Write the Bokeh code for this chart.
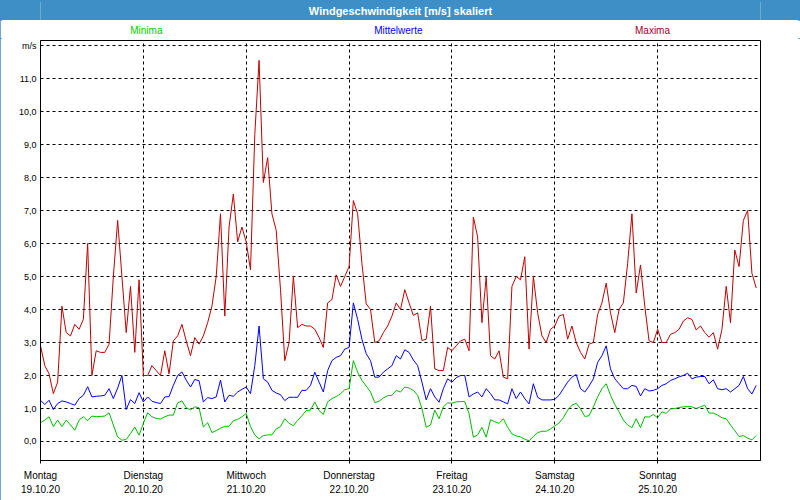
from bokeh.plotting import figure
from bokeh.models import Range1d, FixedTicker, LinearAxis
from bokeh.layouts import column
from bokeh.embed import file_html
from bokeh.resources import INLINE
from bokeh.core.properties import value

# ---------------- data ----------------
title_text = "Windgeschwindigkeit [m/s] skaliert"
series_names = ["Minima", "Mittelwerte", "Maxima"]
day_names = ["Montag", "Dienstag", "Mittwoch", "Donnerstag", "Freitag", "Samstag", "Sonntag"]
day_dates = ["19.10.20", "20.10.20", "21.10.20", "22.10.20", "23.10.20", "24.10.20", "25.10.20"]
day_ticks = [0, 24, 48, 72, 96, 120, 144]          # hours since Mo 19.10.20 00:00
y_ticks = [0, 1, 2, 3, 4, 5, 6, 7, 8, 9, 10, 11, 12]
y_tick_labels = ["0,0", "1,0", "2,0", "3,0", "4,0", "5,0", "6,0", "7,0",
                 "8,0", "9,0", "10,0", "11,0", "m/s"]

hours = list(range(168))   # hourly samples

maxima = [
    2.9, 2.3, 2.05, 1.45, 1.8, 4.1, 3.3, 3.2, 3.55, 3.4, 3.7, 6.0, 2.0, 2.75, 2.7, 2.7, 2.95, 5.0, 6.7, 5.0, 3.3, 4.7, 2.7, 4.9,
    2.0, 2.0, 2.3, 2.15, 2.0, 2.75, 2.05, 3.05, 3.2, 3.55, 3.05, 2.6, 3.15, 2.95, 3.2, 3.6, 4.1, 5.0, 6.9, 3.8, 6.5, 7.5, 6.05, 6.5,
    6.05, 5.2, 9.3, 11.55, 7.85, 8.6, 6.9, 6.4, 4.6, 2.45, 3.0, 5.0, 3.45, 3.55, 3.5, 3.5, 3.4, 3.15, 2.85, 4.2, 4.3, 5.05, 4.7, 5.0,
    5.3, 7.3, 6.9, 5.4, 4.17, 4.0, 3.0, 3.05, 3.3, 3.5, 3.8, 4.2, 4.0, 4.6, 4.2, 3.82, 3.9, 3.06, 3.1, 4.1, 2.2, 2.15, 2.15, 2.85,
    2.75, 2.9, 3.05, 3.1, 2.75, 6.8, 6.2, 3.6, 4.98, 2.6, 2.5, 2.75, 1.95, 1.9, 4.7, 5.0, 4.9, 5.6, 2.8, 5.0, 3.9, 3.2, 3.0, 3.4,
    3.5, 3.8, 3.85, 3.1, 3.5, 3.0, 2.7, 2.5, 2.95, 3.0, 3.85, 4.2, 4.8, 3.9, 3.3, 4.0, 4.2, 5.4, 6.9, 4.5, 5.35, 4.1, 3.05, 3.0,
    3.4, 3.0, 3.0, 3.25, 3.3, 3.4, 3.65, 3.75, 3.7, 3.38, 3.5, 3.3, 3.16, 3.3, 2.8, 3.4, 4.7, 3.6, 5.8, 5.3, 6.7, 7.0, 5.1, 4.65,
]
mittelwerte = [
    1.25, 1.12, 1.25, 0.97, 1.15, 1.23, 1.2, 1.15, 1.1, 1.3, 1.4, 1.66, 1.35, 1.37, 1.38, 1.4, 1.6, 1.3, 1.62, 2.0, 0.97, 1.27, 1.15, 1.48,
    1.2, 1.35, 1.22, 1.18, 1.15, 1.35, 1.36, 1.7, 2.0, 2.11, 1.86, 1.65, 1.88, 1.84, 1.2, 1.33, 1.3, 1.35, 1.86, 1.2, 1.4, 1.37, 1.5, 1.58,
    1.65, 1.45, 2.3, 3.5, 1.9, 1.8, 1.55, 1.47, 1.42, 1.24, 1.34, 1.34, 1.34, 1.55, 1.55, 1.7, 2.1, 1.8, 1.5, 2.15, 2.45, 2.55, 2.6, 2.8,
    2.85, 4.2, 3.7, 3.1, 2.66, 2.45, 1.95, 1.95, 2.1, 2.2, 2.3, 2.6, 2.5, 2.78, 2.7, 2.47, 2.3, 1.8, 1.26, 1.6, 1.35, 1.19, 1.6, 1.9,
    1.8, 1.93, 2.0, 2.0, 1.35, 1.44, 1.5, 1.35, 1.6, 1.45, 1.26, 1.26, 1.2, 1.14, 1.6, 1.3, 1.5, 1.3, 1.14, 1.75, 1.34, 1.26, 1.26, 1.26,
    1.28, 1.4, 1.6, 1.8, 1.95, 2.03, 1.6, 1.5, 1.68, 1.9, 2.4, 2.6, 2.9, 2.2, 1.9, 1.75, 1.6, 1.6, 1.7, 1.67, 1.38, 1.6, 1.53, 1.55,
    1.6, 1.7, 1.75, 1.85, 1.9, 1.96, 2.0, 2.07, 1.9, 1.95, 1.97, 1.97, 1.75, 1.87, 1.6, 1.57, 1.6, 1.5, 1.6, 1.7, 1.97, 1.6, 1.44, 1.7,
]
minima = [
    0.57, 0.65, 0.75, 0.45, 0.65, 0.45, 0.65, 0.5, 0.34, 0.65, 0.75, 0.63, 0.77, 0.75, 0.76, 0.77, 0.87, 0.5, 0.14, 0.04, 0.06, 0.24, 0.44, 0.19,
    0.55, 0.87, 0.75, 0.7, 0.68, 0.75, 0.8, 0.8, 1.17, 1.23, 1.02, 0.96, 1.05, 1.02, 0.44, 0.57, 0.27, 0.33, 0.4, 0.46, 0.46, 0.63, 0.67, 0.75,
    0.85, 0.45, 0.2, 0.08, 0.18, 0.2, 0.2, 0.38, 0.45, 0.69, 0.55, 0.48, 0.64, 0.78, 0.94, 0.95, 1.2, 0.94, 0.82, 1.2, 1.3, 1.36, 1.45, 1.57,
    1.6, 2.45, 2.1, 1.85, 1.68, 1.5, 1.18, 1.22, 1.32, 1.39, 1.4, 1.55, 1.5, 1.65, 1.62, 1.55, 1.4, 1.0, 0.43, 0.5, 0.95, 0.69, 1.05, 1.17,
    1.16, 1.2, 1.21, 1.21, 0.84, 0.13, 0.2, 0.43, 0.13, 0.66, 0.6, 0.55, 0.69, 0.43, 0.23, 0.17, 0.14, 0.07, 0.02, 0.15, 0.27, 0.31, 0.31, 0.38,
    0.47, 0.56, 0.72, 0.95, 1.1, 1.16, 0.99, 0.76, 0.78, 1.05, 1.35, 1.6, 1.75, 1.4, 1.12, 0.9, 0.65, 0.5, 0.42, 0.69, 0.42, 0.75, 0.74, 0.82,
    0.72, 0.9, 0.85, 0.99, 1.0, 1.03, 1.05, 1.06, 1.05, 1.0, 1.05, 1.1, 0.86, 0.86, 0.8, 0.72, 0.69, 0.5, 0.33, 0.15, 0.18, 0.1, 0.05, 0.18,
]

# ---------------- style ----------------
FONT = "Liberation Sans"
BAR_BLUE = "#3d8fc6"
C_MIN, C_MID, C_MAX = "#00bb00", "#0000ff", "#c00000"
L_MIN, L_MID, L_MAX = "#00cc00", "#0000ff", "#a00030"
W = 800

# title bar
bar = figure(width=W, height=20, x_range=Range1d(0, 1), y_range=Range1d(0, 1),
             toolbar_location=None, output_backend="svg", min_border=0,
             x_axis_location=None, y_axis_location=None)
bar.grid.visible = False
bar.background_fill_color = BAR_BLUE
bar.border_fill_color = BAR_BLUE
bar.outline_line_color = None
bar.text(x=[0.5], y=[0.5], text=[title_text], text_align="center", text_baseline="middle",
         text_color="white", text_font=value(FONT), text_font_size="11px", text_font_style="bold")

# legend strip
leg = figure(width=W, height=18, x_range=Range1d(0, 1), y_range=Range1d(0, 1),
             toolbar_location=None, output_backend="svg", min_border=0,
             min_border_left=40, min_border_right=40,
             x_axis_location=None, y_axis_location=None)
leg.grid.visible = False
leg.outline_line_color = None
leg.background_fill_color = "white"
leg.border_fill_color = "white"
leg.text(x=[0.147, 0.497, 0.85], y=[0.42, 0.42, 0.42], text=series_names,
         text_color=[L_MIN, L_MID, L_MAX], text_align="center", text_baseline="middle",
         text_font=value(FONT), text_font_size="10px")

# main chart
p = figure(width=W, height=462, x_range=Range1d(0, 168), y_range=Range1d(-0.5758, 12.152),
           toolbar_location=None, output_backend="svg",
           min_border_left=40, min_border_right=40, min_border_top=2, min_border_bottom=40)
p.background_fill_color = "white"
p.border_fill_color = "white"
p.outline_line_color = "black"
p.outline_line_width = 1

xa = p.xaxis[0]
xa.ticker = FixedTicker(ticks=day_ticks)
xa.major_label_overrides = {t: n for t, n in zip(day_ticks, day_names)}
xa.major_tick_out = 3
xa.major_tick_in = 0
xa.minor_tick_out = 0
xa.minor_tick_in = 0
xa.major_label_standoff = 6
xa.axis_line_color = "black"
xa.major_tick_line_color = "black"
xa.major_label_text_font = FONT
xa.major_label_text_font_size = "10px"
xa.major_label_text_color = "black"

xa2 = LinearAxis(ticker=FixedTicker(ticks=day_ticks),
                 major_label_overrides={t: d for t, d in zip(day_ticks, day_dates)})
xa2.major_tick_out = 0
xa2.major_tick_in = 0
xa2.minor_tick_out = 0
xa2.minor_tick_in = 0
xa2.major_label_standoff = 1
xa2.axis_line_color = None
xa2.major_label_text_font = FONT
xa2.major_label_text_font_size = "10px"
xa2.major_label_text_color = "black"
p.add_layout(xa2, "below")

ya = p.yaxis[0]
ya.ticker = FixedTicker(ticks=y_ticks)
ya.major_label_overrides = {t: s for t, s in zip(y_ticks, y_tick_labels)}
ya.major_tick_out = 0
ya.major_tick_in = 0
ya.minor_tick_out = 0
ya.minor_tick_in = 0
ya.major_label_standoff = 4
ya.axis_line_color = "black"
ya.major_label_text_font = FONT
ya.major_label_text_font_size = "9px"
ya.major_label_text_color = "black"

for g in (p.xgrid[0], p.ygrid[0]):
    g.grid_line_color = "black"
    g.grid_line_dash = "3 3"
    g.grid_line_width = 1
p.xgrid[0].ticker = FixedTicker(ticks=day_ticks[1:])

p.line(hours, minima, line_color=C_MIN, line_width=1)
p.line(hours, mittelwerte, line_color=C_MID, line_width=1)
p.line(hours, maxima, line_color=C_MAX, line_width=1)

layout = column(bar, leg, p, spacing=0,
                styles={"outline": "2px solid " + BAR_BLUE, "outline-offset": "-2px"})
open("out.html", "w").write(file_html(layout, INLINE))
